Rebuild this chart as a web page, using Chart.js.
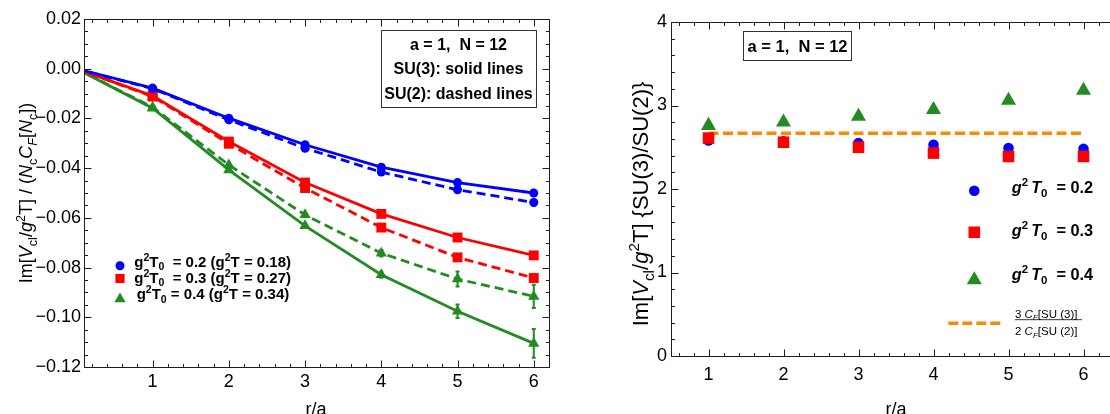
<!DOCTYPE html>
<html>
<head>
<meta charset="utf-8">
<script src="https://cdn.jsdelivr.net/npm/chart.js@4.4.1/dist/chart.umd.min.js"></script>
<style>
  html, body { margin: 0; padding: 0; background: #fff; overflow: hidden; }
  #wrap { position: relative; width: 1110px; height: 414px; overflow: hidden; }
  #left_box { position: absolute; left: 0; top: 0; width: 560px; height: 414px; }
  #right_box { position: absolute; left: 560px; top: 0; width: 570px; height: 414px; }
  canvas { display: block; }
</style>
</head>
<body>
<div id="wrap">
  <div id="left_box"><canvas id="leftChart" width="560" height="414"></canvas></div>
  <div id="right_box"><canvas id="rightChart" width="570" height="414"></canvas></div>
</div>
<script>
// ---- 左図: Im[V/g^2T] / (Nc CF[Nc]) ----
let rLeft = [0, 1, 2, 3, 4, 5, 6];

// SU(3)（実線）
let su3G02 = [0, -0.0078, -0.0199, -0.0306, -0.0396, -0.0458, -0.0500];
let su3G03 = [0, -0.0109, -0.0293, -0.0458, -0.0584, -0.0679, -0.0751];
let su3G04 = [0, -0.0159, -0.0407, -0.0632, -0.0829, -0.0976, -0.1105];
// SU(2)（破線）
let su2G02 = [0, -0.0080, -0.0206, -0.0320, -0.0416, -0.0487, -0.0538];
let su2G03 = [0, -0.0112, -0.0302, -0.0480, -0.0639, -0.0759, -0.0842];
let su2G04 = [0, -0.0155, -0.0387, -0.0588, -0.0742, -0.0846, -0.0916];

// 誤差
let su3G02Err = [0, 0.0004, 0.0005, 0.0006, 0.0007, 0.0008, 0.0010];
let su3G03Err = [0, 0.0004, 0.0005, 0.0006, 0.0007, 0.0008, 0.0010];
let su3G04Err = [0, 0.0005, 0.0008, 0.0008, 0.0012, 0.0027, 0.0058];
let su2G02Err = [0, 0.0004, 0.0005, 0.0006, 0.0008, 0.0009, 0.0011];
let su2G03Err = [0, 0.0004, 0.0005, 0.0006, 0.0008, 0.0010, 0.0012];
let su2G04Err = [0, 0.0004, 0.0006, 0.0008, 0.0013, 0.0030, 0.0047];

// ---- 右図: SU(3)/SU(2) の比 ----
let rRight = [1, 2, 3, 4, 5, 6];
let ratioG02 = [2.58, 2.57, 2.55, 2.53, 2.49, 2.48];
let ratioG03 = [2.61, 2.56, 2.50, 2.43, 2.39, 2.39];
let ratioG04 = [2.76, 2.80, 2.87, 2.95, 3.06, 3.18];
// 3 CF[SU(3)] / 2 CF[SU(2)] = 8/3
let casimirRatio = (3 * (4 / 3)) / (2 * (3 / 4));
let casimirRange = [1, 6];

// 凡例
let g2T0 = ["0.2", "0.3", "0.4"];
let g2T = ["0.18", "0.27", "0.34"];

// 目盛り
let leftXTicks = [1, 2, 3, 4, 5, 6];
let leftYTicks = [0.02, 0, -0.02, -0.04, -0.06, -0.08, -0.1, -0.12];
let rightXTicks = [1, 2, 3, 4, 5, 6];
let rightYTicks = [0, 1, 2, 3, 4];

const BLUE = "rgb(0,0,255)";
const RED = "rgb(255,0,0)";
const GREEN = "rgb(34,139,34)";
const ORANGE = "rgb(255,136,0)";
const FONT = "'Liberation Sans', Arial, Helvetica, sans-serif";

Chart.defaults.font.family = FONT;
Chart.defaults.font.size = 18;
Chart.defaults.color = "#000";

function toPoints(xs, ys) {
  return xs.map((x, i) => ({ x: x, y: ys[i] }));
}

// マーカー描画（Chart.js の pointStyle と同じ形）
function drawMarker(ctx, style, x, y, r, color) {
  ctx.save();
  ctx.fillStyle = color;
  ctx.beginPath();
  if (style === "circle") {
    ctx.arc(x, y, r, 0, Math.PI * 2);
  } else if (style === "rect") {
    const s = Math.SQRT1_2 * r;
    ctx.rect(x - s, y - s, 2 * s, 2 * s);
  } else if (style === "triangle") {
    let a = 0;
    ctx.moveTo(x + Math.sin(a) * r, y - Math.cos(a) * r);
    a += (2 * Math.PI) / 3;
    ctx.lineTo(x + Math.sin(a) * r, y - Math.cos(a) * r);
    a += (2 * Math.PI) / 3;
    ctx.lineTo(x + Math.sin(a) * r, y - Math.cos(a) * r);
    ctx.closePath();
  }
  ctx.fill();
  ctx.restore();
}

// 上付き・下付きを含むテキスト
function partFont(p, size) {
  const s = p.sup || p.sub ? size * 0.7 : size;
  return (p.i ? "italic " : "") + (p.b ? "bold " : "") + s + "px " + FONT;
}
function richWidth(ctx, parts, size) {
  let w = 0;
  parts.forEach((p) => {
    ctx.font = partFont(p, size);
    w += ctx.measureText(p.t).width;
  });
  return w;
}
function drawRich(ctx, parts, x, y, size, align) {
  let cx = align === "center" ? x - richWidth(ctx, parts, size) / 2 : x;
  ctx.textBaseline = "alphabetic";
  ctx.textAlign = "left";
  parts.forEach((p) => {
    ctx.font = partFont(p, size);
    const dy = p.sup ? -size * 0.4 : p.sub ? size * 0.25 : 0;
    ctx.fillText(p.t, cx, y + dy);
    cx += ctx.measureText(p.t).width;
  });
}
function drawRichVertical(ctx, parts, x, y, size) {
  ctx.save();
  ctx.translate(x, y);
  ctx.rotate(-Math.PI / 2);
  drawRich(ctx, parts, 0, 0, size, "center");
  ctx.restore();
}

// 枠と内向きの目盛り（四辺）
const framePlugin = {
  id: "frame",
  afterDraw(chart, args, opts) {
    const ctx = chart.ctx;
    const a = chart.chartArea;
    const xs = chart.scales.x;
    const ys = chart.scales.y;
    const L = Math.round(a.left) + 0.5;
    const R = Math.round(a.right) + 0.5;
    const T = Math.round(a.top) + 0.5;
    const B = Math.round(a.bottom) + 0.5;
    ctx.save();
    ctx.strokeStyle = "#1e1e1e";
    ctx.lineWidth = 1;
    ctx.strokeRect(L, T, R - L, B - T);
    ctx.beginPath();
    const xTick = (v, len) => {
      const px = Math.round(xs.getPixelForValue(v)) + 0.5;
      if (px <= L + 1 || px >= R - 1) return;
      ctx.moveTo(px, B); ctx.lineTo(px, B - len);
      ctx.moveTo(px, T); ctx.lineTo(px, T + len);
    };
    const yTick = (v, len) => {
      const py = Math.round(ys.getPixelForValue(v)) + 0.5;
      if (py <= T + 1 || py >= B - 1) return;
      ctx.moveTo(L, py); ctx.lineTo(L + len, py);
      ctx.moveTo(R, py); ctx.lineTo(R - len, py);
    };
    for (let k = Math.ceil(xs.min / opts.xMinor - 1e-6); k * opts.xMinor <= xs.max + 1e-9; k++) {
      xTick(k * opts.xMinor, 3.5);
    }
    for (let k = Math.ceil(ys.min / opts.yMinor - 1e-6); k * opts.yMinor <= ys.max + 1e-9; k++) {
      yTick(k * opts.yMinor, 3.5);
    }
    xs.ticks.forEach((t) => xTick(t.value, 7));
    ys.ticks.forEach((t) => yTick(t.value, 7));
    ctx.stroke();
    ctx.restore();
  },
};

// 誤差棒
const errorBarPlugin = {
  id: "errorBars",
  afterDatasetsDraw(chart) {
    const ctx = chart.ctx;
    const xs = chart.scales.x;
    const ys = chart.scales.y;
    chart.data.datasets.forEach((ds) => {
      if (!ds.errors) return;
      ctx.save();
      ctx.strokeStyle = ds.borderColor;
      ctx.lineWidth = 2;
      ctx.beginPath();
      ds.data.forEach((p, i) => {
        const e = ds.errors[i];
        if (!e) return;
        const px = xs.getPixelForValue(p.x);
        const y1 = ys.getPixelForValue(p.y + e);
        const y2 = ys.getPixelForValue(p.y - e);
        ctx.moveTo(px, y1); ctx.lineTo(px, y2);
        ctx.moveTo(px - 2, y1); ctx.lineTo(px + 2, y1);
        ctx.moveTo(px - 2, y2); ctx.lineTo(px + 2, y2);
      });
      ctx.stroke();
      ctx.restore();
    });
  },
};

function lineSet(values, errors, color, style, radius, dashed) {
  return {
    data: toPoints(rLeft, values),
    errors: errors,
    borderColor: color,
    backgroundColor: color,
    borderWidth: 2.8,
    borderDash: dashed ? [9, 5] : [],
    pointStyle: style,
    pointRadius: (c) => (c.raw && c.raw.x === 0 ? 0 : radius),
    pointBorderWidth: 0,
    pointBackgroundColor: color,
    tension: 0,
    clip: 0,
  };
}

function tickText(v) {
  if (Math.abs(v) < 1e-9) return "0.00";
  return v.toFixed(2).replace("-", "\u2212");
}

// 左図の注記
const leftNotes = {
  id: "leftNotes",
  afterDraw(chart) {
    const ctx = chart.ctx;
    ctx.save();
    ctx.fillStyle = "#000";
    // 軸タイトル
    drawRichVertical(ctx, [
      { t: "Im[" }, { t: "V", i: 1 }, { t: "cl", sub: 1 }, { t: "/" }, { t: "g", i: 1 }, { t: "2", sup: 1 },
      { t: "T] / (" }, { t: "N", i: 1 }, { t: "c", sub: 1 }, { t: "C", i: 1 }, { t: "F", sub: 1, i: 1 },
      { t: "[" }, { t: "N", i: 1 }, { t: "c", sub: 1 }, { t: "])" },
    ], 32, 193, 18);
    drawRich(ctx, [{ t: "r/a" }], 316, 415, 18, "center");

    // テキストボックス
    ctx.strokeStyle = "#333";
    ctx.lineWidth = 1;
    ctx.strokeRect(381.5, 30.5, 155, 77);
    ctx.font = "bold 16px " + FONT;
    ctx.textAlign = "center";
    ctx.fillText("a = 1,  N = 12", 458.5, 50);
    ctx.fillText("SU(3): solid lines", 458.5, 74);
    ctx.fillText("SU(2): dashed lines", 458.5, 99);

    // 凡例
    const styles = ["circle", "rect", "triangle"];
    const colors = [BLUE, RED, GREEN];
    const radii = [4.5, 6.5, 6.5];
    const markerY = [265.7, 278.5, 299];
    const textX = [134.3, 134.3, 136.7];
    const baseY = [266.5, 282.5, 299];
    for (let i = 0; i < 3; i++) {
      drawMarker(ctx, styles[i], 120, markerY[i], radii[i], colors[i]);
      drawRich(ctx, [
        { t: "g", b: 1 }, { t: "2", sup: 1, b: 1 }, { t: "T", b: 1 }, { t: "0", sub: 1, b: 1 },
        { t: (i === 2 ? " = " : "  = ") + g2T0[i] + " (g", b: 1 }, { t: "2", sup: 1, b: 1 },
        { t: "T = " + g2T[i] + ")", b: 1 },
      ], textX[i], baseY[i], 15, "left");
    }
    ctx.restore();
  },
};

// 右図の注記
const rightNotes = {
  id: "rightNotes",
  afterDraw(chart) {
    const ctx = chart.ctx;
    ctx.save();
    ctx.fillStyle = "#000";
    drawRichVertical(ctx, [
      { t: "Im[" }, { t: "V", i: 1 }, { t: "cl", sub: 1 }, { t: "/" }, { t: "g", i: 1 }, { t: "2", sup: 1 },
      { t: "T] {SU(3)/SU(2)}" },
    ], 88, 204, 22);
    drawRich(ctx, [{ t: "r/a" }], 336, 415, 18, "center");

    ctx.strokeStyle = "#333";
    ctx.lineWidth = 1;
    ctx.strokeRect(183.5, 31.5, 108, 29);
    ctx.font = "bold 16.5px " + FONT;
    ctx.textAlign = "center";
    ctx.fillText("a = 1,  N = 12", 237.5, 51.5);

    // 凡例
    const styles = ["circle", "rect", "triangle"];
    const colors = [BLUE, RED, GREEN];
    const radii = [5.3, 8.2, 8.7];
    const markerY = [190.7, 232.3, 280];
    const baseY = [192.7, 236, 280];
    for (let i = 0; i < 3; i++) {
      drawMarker(ctx, styles[i], 414.3, markerY[i], radii[i], colors[i]);
      drawRich(ctx, [
        { t: "g", b: 1, i: 1 }, { t: "2 ", sup: 1, b: 1 }, { t: "T", b: 1, i: 1 }, { t: "0", sub: 1, b: 1 },
        { t: "  = " + g2T0[i], b: 1 },
      ], 451.7, baseY[i], 16.3, "left");
    }
    ctx.strokeStyle = ORANGE;
    ctx.lineWidth = 3.5;
    ctx.setLineDash([10, 4]);
    ctx.beginPath();
    ctx.moveTo(388.3, 323.3);
    ctx.lineTo(442, 323.3);
    ctx.stroke();
    ctx.setLineDash([]);
    drawRich(ctx, [{ t: "3 " }, { t: "C", i: 1 }, { t: "F", sub: 1, i: 1 }, { t: "[SU (3)]" }], 455, 317.5, 11.5, "left");
    drawRich(ctx, [{ t: "2 " }, { t: "C", i: 1 }, { t: "F", sub: 1, i: 1 }, { t: "[SU (2)]" }], 455, 335, 11.5, "left");
    ctx.strokeStyle = "#000";
    ctx.lineWidth = 0.8;
    ctx.beginPath();
    ctx.moveTo(455, 319.7);
    ctx.lineTo(522, 319.7);
    ctx.stroke();
    ctx.restore();
  },
};

let leftConfig = {
  type: "line",
  data: {
    datasets: [
      lineSet(su3G02, su3G02Err, BLUE, "circle", 4.5, false),
      lineSet(su2G02, su2G02Err, BLUE, "circle", 4.5, true),
      lineSet(su3G03, su3G03Err, RED, "rect", 7, false),
      lineSet(su2G03, su2G03Err, RED, "rect", 7, true),
      lineSet(su3G04, su3G04Err, GREEN, "triangle", 6.5, false),
      lineSet(su2G04, su2G04Err, GREEN, "triangle", 6.5, true),
    ],
  },
  options: {
    responsive: false,
    animation: false,
    layout: { padding: { top: 19, right: 11, left: 0, bottom: 0 } },
    plugins: {
      legend: { display: false },
      tooltip: { enabled: false },
      frame: { xMinor: 0.2, yMinor: 0.005 },
    },
    scales: {
      x: {
        type: "linear",
        min: 0.1,
        max: 6.2,
        grid: { display: false, drawTicks: false },
        border: { display: false },
        ticks: { padding: 4, font: { size: 18 } },
        afterBuildTicks: (s) => { s.ticks = leftXTicks.map((v) => ({ value: v })); },
        afterFit: (s) => { s.height = 47; },
      },
      y: {
        type: "linear",
        min: -0.12,
        max: 0.02,
        grid: { display: false, drawTicks: false },
        border: { display: false },
        ticks: { padding: 3, font: { size: 18 }, callback: (v) => tickText(v) },
        afterBuildTicks: (s) => { s.ticks = leftYTicks.map((v) => ({ value: v })); },
        afterFit: (s) => { s.width = 84; },
      },
    },
  },
  plugins: [errorBarPlugin, framePlugin, leftNotes],
};

function ratioSet(values, color, style, radius, order) {
  return {
    data: toPoints(rRight, values),
    showLine: false,
    borderColor: color,
    backgroundColor: color,
    pointStyle: style,
    pointRadius: radius,
    pointBorderWidth: 0,
    pointBackgroundColor: color,
    order: order,
  };
}

let rightConfig = {
  type: "line",
  data: {
    datasets: [
      {
        data: toPoints(casimirRange, [casimirRatio, casimirRatio]),
        borderColor: ORANGE,
        borderWidth: 3.5,
        borderDash: [10, 4.5],
        pointRadius: 0,
        order: 4,
      },
      ratioSet(ratioG02, BLUE, "circle", 5.3, 3),
      ratioSet(ratioG03, RED, "rect", 8.2, 2),
      ratioSet(ratioG04, GREEN, "triangle", 8.7, 1),
    ],
  },
  options: {
    responsive: false,
    animation: false,
    layout: { padding: { top: 22, right: 9, left: 0, bottom: 0 } },
    plugins: {
      legend: { display: false },
      tooltip: { enabled: false },
      frame: { xMinor: 0.2, yMinor: 0.2 },
    },
    scales: {
      x: {
        type: "linear",
        min: 0.5,
        max: 6.5,
        grid: { display: false, drawTicks: false },
        border: { display: false },
        ticks: { padding: 8, font: { size: 18 } },
        afterBuildTicks: (s) => { s.ticks = rightXTicks.map((v) => ({ value: v })); },
        afterFit: (s) => { s.height = 58; },
      },
      y: {
        type: "linear",
        min: 0,
        max: 4,
        grid: { display: false, drawTicks: false },
        border: { display: false },
        ticks: { padding: 4, font: { size: 18 }, callback: (v) => String(v) },
        afterBuildTicks: (s) => { s.ticks = rightYTicks.map((v) => ({ value: v })); },
        afterFit: (s) => { s.width = 111; },
      },
    },
  },
  plugins: [framePlugin, rightNotes],
};

window.onload = function () {
  window.leftChart = new Chart(document.getElementById("leftChart").getContext("2d"), leftConfig);
  window.rightChart = new Chart(document.getElementById("rightChart").getContext("2d"), rightConfig);
};
</script>
</body>
</html>
